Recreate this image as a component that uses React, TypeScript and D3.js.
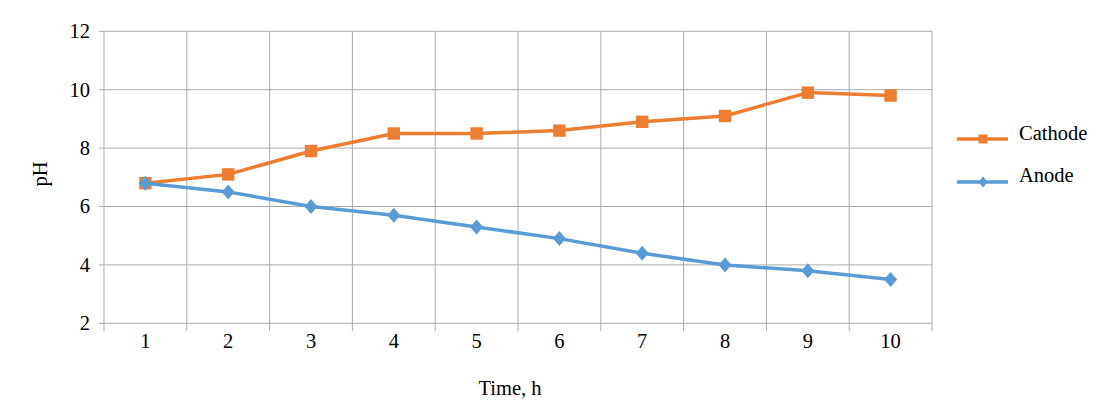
import * as d3 from 'd3';

const times = ['1', '2', '3', '4', '5', '6', '7', '8', '9', '10'];
const cathode = [6.8, 7.1, 7.9, 8.5, 8.5, 8.6, 8.9, 9.1, 9.9, 9.8];
const anode = [6.8, 6.5, 6.0, 5.7, 5.3, 4.9, 4.4, 4.0, 3.8, 3.5];
const yTicks = [2, 4, 6, 8, 10, 12];

const W = 1104;
const H = 407;
const left = 104;
const right = 932;
const top = 31.3;
const bottom = 323.3;
const grid = '#ababab';
const font = '"Liberation Serif", "Times New Roman", serif';
const orange = '#ed7d31';
const blue = '#5b9bd5';

export default function App() {
  const x = d3.scaleBand().domain(times).range([left, right]).padding(0);
  const y = d3.scaleLinear().domain([2, 12]).range([bottom, top]);
  const cx = (d: string) => (x(d) || 0) + x.bandwidth() / 2;

  const line = d3.line<number>()
    .x((_, i) => cx(times[i]))
    .y(d => y(d));

  const bounds = times.map(d => x(d) || 0).concat([right]);

  const square = (px: number, py: number, s: number) =>
    `M${px - s},${py - s}h${2 * s}v${2 * s}h${-2 * s}Z`;
  const diamond = (px: number, py: number, w: number, h: number) =>
    `M${px},${py - h}L${px + w},${py}L${px},${py + h}L${px - w},${py}Z`;

  return (
    <svg width={W} height={H} style={{ position: 'absolute', left: 0, top: 0, background: '#fff' }}
      fontFamily={font}>
      {/* horizontal grid + y ticks */}
      {yTicks.map(t => (
        <g key={'y' + t}>
          <line x1={left - 5} x2={right} y1={y(t)} y2={y(t)} stroke={grid} strokeWidth={1} />
          <text x={90} y={y(t)} dy="0.34em" textAnchor="end" fontSize={20.5} fill="#000">{t}</text>
        </g>
      ))}
      {/* vertical grid + x ticks */}
      {bounds.map((b, i) => (
        <line key={'v' + i} x1={b} x2={b} y1={top} y2={bottom + 8} stroke={grid} strokeWidth={1} />
      ))}
      {times.map(t => (
        <text key={'x' + t} x={cx(t)} y={348} textAnchor="middle" fontSize={20.5} fill="#000">{t}</text>
      ))}

      {/* cathode */}
      <path d={line(cathode) || ''} fill="none" stroke={orange} strokeWidth={3.5} strokeLinejoin="round" />
      {cathode.map((v, i) => (
        <path key={'c' + i} d={square(cx(times[i]), y(v), 6.2)} fill={orange} />
      ))}

      {/* anode */}
      <path d={line(anode) || ''} fill="none" stroke={blue} strokeWidth={3.5} strokeLinejoin="round" />
      {anode.map((v, i) => (
        <path key={'a' + i} d={diamond(cx(times[i]), y(v), 6.5, 7.5)} fill={blue} />
      ))}

      {/* axis titles */}
      <text transform="translate(47,174) rotate(-90)" textAnchor="middle" fontSize={20.5} fill="#000">pH</text>
      <text x={510} y={395} textAnchor="middle" fontSize={20.5} fill="#000">Time, h</text>

      {/* legend */}
      <line x1={957} x2={1008} y1={139} y2={139} stroke={orange} strokeWidth={3.5} />
      <path d={square(983, 139, 4.5)} fill={orange} />
      <text x={1019} y={140} fontSize={20.5} fill="#000">Cathode</text>
      <line x1={957} x2={1008} y1={182} y2={182} stroke={blue} strokeWidth={3.5} />
      <path d={diamond(983, 182, 4.5, 5.5)} fill={blue} />
      <text x={1019} y={182} fontSize={20.5} fill="#000">Anode</text>
    </svg>
  );
}
